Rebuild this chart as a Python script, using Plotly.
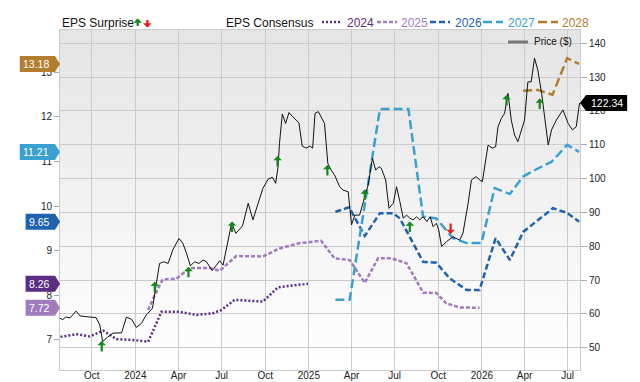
import plotly.graph_objects as go

# ---------------- DATA ----------------
price_dates = [
    "2023-07-26", "2023-08-01", "2023-08-07", "2023-08-16", "2023-08-29", "2023-09-06", "2023-09-23",
    "2023-10-10", "2023-10-18", "2023-10-24", "2023-11-04", "2023-11-15", "2023-12-03", "2023-12-13",
    "2023-12-24", "2024-01-03", "2024-01-14", "2024-01-24", "2024-02-06", "2024-02-21", "2024-03-01",
    "2024-03-10", "2024-03-20", "2024-04-02", "2024-04-10", "2024-04-18", "2024-04-26", "2024-05-05",
    "2024-05-14", "2024-05-23", "2024-05-30", "2024-06-11", "2024-06-20", "2024-06-27", "2024-07-04",
    "2024-07-14", "2024-07-22", "2024-07-31", "2024-08-14", "2024-08-26", "2024-09-05", "2024-09-16",
    "2024-09-26", "2024-10-07", "2024-10-16", "2024-10-23", "2024-10-28", "2024-10-31", "2024-11-06",
    "2024-11-13", "2024-11-20", "2024-11-28", "2024-12-11", "2024-12-18", "2024-12-26", "2025-01-03",
    "2025-01-09", "2025-01-14", "2025-01-21", "2025-02-03", "2025-02-10", "2025-02-17", "2025-02-24",
    "2025-03-07", "2025-03-14", "2025-03-25", "2025-04-01", "2025-04-08", "2025-04-18", "2025-04-29",
    "2025-05-06", "2025-05-15", "2025-05-22", "2025-05-29", "2025-06-03", "2025-06-12", "2025-06-19",
    "2025-06-28", "2025-07-05", "2025-07-12", "2025-07-19", "2025-07-26", "2025-08-02", "2025-08-09",
    "2025-08-16", "2025-08-23", "2025-08-30", "2025-09-07", "2025-09-14", "2025-09-20", "2025-09-27",
    "2025-10-02", "2025-10-08", "2025-10-18", "2025-11-01", "2025-11-15", "2025-11-22", "2025-12-03",
    "2025-12-10", "2025-12-20", "2025-12-27", "2026-01-02", "2026-01-14", "2026-01-23", "2026-01-30",
    "2026-02-04", "2026-02-11", "2026-02-18", "2026-02-25", "2026-03-04", "2026-03-11", "2026-03-18",
    "2026-03-25", "2026-04-01", "2026-04-08", "2026-04-15", "2026-04-22", "2026-04-29", "2026-05-07",
    "2026-05-14", "2026-05-21", "2026-05-28", "2026-06-07", "2026-06-21", "2026-07-02", "2026-07-11",
    "2026-07-19", "2026-07-26",
]
price_values = [
    58.7, 58.3, 59.1, 58.8, 60.8, 59.4, 59.1,
    58.9, 56.7, 51.8, 53.2, 54.3, 54.4, 59.0,
    58.4, 56.0, 57.2, 59.7, 61.6, 74.9, 75.4,
    74.9, 78.9, 82.3, 80.9, 77.9, 74.2, 75.4,
    74.9, 75.9, 75.4, 72.8, 74.4, 75.7, 74.4,
    81.8, 86.8, 83.8, 86.0, 92.7, 87.8, 92.7,
    97.1, 99.8, 100.4, 98.6, 103.5, 110.4, 119.1,
    116.3, 119.5, 118.3, 116.5, 109.6, 109.0, 109.6,
    109.0, 119.3, 119.8, 116.3, 104.5, 102.5, 101.1,
    97.6, 96.6, 96.1, 86.3, 89.2, 89.2, 94.6,
    98.1, 106.0, 102.5, 103.5, 103.0, 99.6, 91.2,
    92.7, 97.6, 93.2, 88.3, 89.2, 88.3, 87.8,
    88.7, 87.8, 88.7, 87.3, 88.7, 85.8, 86.8,
    84.8, 79.9, 81.3, 82.8, 81.8, 83.8, 92.7,
    99.6, 100.6, 99.6, 99.1, 109.9, 109.0, 109.4,
    115.3, 117.8, 119.3, 125.2, 117.3, 112.9, 110.9,
    114.4, 117.3, 128.6, 128.6, 135.6, 132.1, 125.2,
    118.3, 109.9, 114.4, 117.3, 120.3, 116.3, 114.4,
    115.3, 122.34,
]

eps2024_dates = ["2023-07-27", "2023-08-30", "2023-09-27", "2023-10-25", "2023-11-22", "2023-12-27",
                 "2024-01-28", "2024-02-25", "2024-04-03", "2024-05-09", "2024-06-13", "2024-06-30",
                 "2024-07-29", "2024-09-26", "2024-10-28", "2024-12-13", "2024-12-30"]
eps2024_values = [7.07, 7.13, 7.08, 7.21, 7.02, 7.00, 6.96, 7.63, 7.63, 7.56, 7.60, 7.67,
                  7.90, 7.86, 8.18, 8.23, 8.26]

eps2025_dates = ["2024-01-28", "2024-02-11", "2024-02-28", "2024-03-27", "2024-04-25", "2024-06-06",
                 "2024-06-27", "2024-08-01", "2024-09-26", "2024-10-31", "2024-12-13", "2025-01-27",
                 "2025-02-24", "2025-03-28", "2025-04-29", "2025-05-27", "2025-06-24", "2025-07-26",
                 "2025-08-30", "2025-09-27", "2025-10-18", "2025-11-15", "2025-12-27"]
eps2025_values = [7.67, 8.01, 8.36, 8.37, 8.61, 8.61, 8.55, 8.88, 8.87, 9.05, 9.17, 9.22,
                  8.83, 8.79, 8.28, 8.83, 8.83, 8.72, 8.06, 8.05, 7.82, 7.73, 7.72]

eps2026_dates = ["2025-02-26", "2025-03-27", "2025-04-29", "2025-05-31", "2025-06-28", "2025-07-12",
                 "2025-08-30", "2025-09-27", "2025-10-25", "2025-11-30", "2025-12-27", "2026-01-30",
                 "2026-03-01", "2026-03-29", "2026-05-31", "2026-06-29", "2026-07-25"]
eps2026_values = [9.87, 9.97, 9.33, 9.84, 9.84, 9.72, 8.75, 8.73, 8.38, 8.12, 8.12, 9.28,
                  8.79, 9.42, 9.95, 9.85, 9.65]

eps2027_dates = ["2025-02-26", "2025-03-28", "2025-05-31", "2025-07-30", "2025-08-30", "2025-09-27",
                 "2025-11-01", "2025-11-30", "2025-12-31", "2026-01-28", "2026-03-01", "2026-03-29",
                 "2026-04-29", "2026-05-28", "2026-06-30", "2026-07-25"]
eps2027_values = [7.90, 7.90, 12.17, 12.17, 9.76, 9.72, 9.28, 9.17, 9.17, 10.40, 10.27, 10.66,
                  10.84, 10.99, 11.37, 11.21]

eps2028_dates = ["2026-03-29", "2026-04-29", "2026-05-30", "2026-06-30", "2026-07-25"]
eps2028_values = [12.58, 12.60, 12.49, 13.31, 13.18]

surprise_dates = ["2023-10-22", "2024-02-11", "2024-04-22", "2024-07-23", "2024-10-27", "2025-02-09",
                  "2025-04-29", "2025-08-02", "2025-10-27", "2026-02-22", "2026-05-03"]
surprise_prices = [52.0, 69.5, 73.9, 87.3, 106.7, 104.0, 96.8, 87.3, 83.6, 124.7, 123.7]
surprise_dirs = ["up", "up", "up", "up", "up", "up", "up", "up", "down", "up", "up"]

series_names = ["2024", "2025", "2026", "2027", "2028"]
x_tick_dates = ["2023-10-01", "2024-01-01", "2024-04-01", "2024-07-01", "2024-10-01", "2025-01-01",
                "2025-04-01", "2025-07-01", "2025-10-01", "2026-01-01", "2026-04-01", "2026-07-01"]
x_tick_text = ["Oct", "2024", "Apr", "Jul", "Oct", "2025", "Apr", "Jul", "Oct", "2026", "Apr", "Jul"]
eps_ticks = [7, 8, 9, 10, 11, 12, 13]
price_ticks = [50, 60, 70, 80, 90, 100, 110, 120, 130, 140]

# ---------------- STYLE ----------------
FONT = "Liberation Sans, Arial, Helvetica, sans-serif"
GRID = "#cbcbcb"
GREEN = "#12891a"
RED = "#f01818"
colors = {"2024": "#5b2c83", "2025": "#a27bbf", "2026": "#1f62ae", "2027": "#3aa0d0", "2028": "#b27d2e"}
dashes = {"2024": "2px,2px", "2025": "4px,2px", "2026": "6px,3px", "2027": "9px,4px", "2028": "9px,4px"}
eps_data = {
    "2024": (eps2024_dates, eps2024_values),
    "2025": (eps2025_dates, eps2025_values),
    "2026": (eps2026_dates, eps2026_values),
    "2027": (eps2027_dates, eps2027_values),
    "2028": (eps2028_dates, eps2028_values),
}

W, H = 640, 382
ML, MR, MT, MB = 60, 60, 30, 12
PW, PH = W - ML - MR, H - MT - MB


def px(x):
    return (x - ML) / PW


def py(y):
    return (H - MB - y) / PH


fig = go.Figure()

for name in series_names:
    d, v = eps_data[name]
    fig.add_trace(go.Scatter(x=d, y=v, mode="lines", yaxis="y", showlegend=False, hoverinfo="skip",
                             line=dict(color=colors[name], width=2.5, dash=dashes[name])))

fig.add_trace(go.Scatter(x=price_dates, y=price_values, mode="lines", yaxis="y2", showlegend=False,
                         line=dict(color="#111111", width=1)))

shapes = []
# background gradient (top grey -> bottom white)
N = 48
for i in range(N):
    t = (i + 0.5) / N
    c = int(round(228 + (255 - 228) * t))
    shapes.append(dict(type="rect", xref="paper", yref="paper", x0=0, x1=1,
                       y0=1 - (i + 1) / N, y1=1 - i / N + 0.001, fillcolor=f"rgb({c},{c},{c})",
                       line=dict(width=0), layer="below"))

annotations = []


def tw(s, size):
    return sum(0.278 if ch == "." else 0.556 for ch in s) * size


# value tags at left axis
TAG_FS = 10.5
for name in series_names:
    d, v = eps_data[name]
    val = v[-1]
    txt = f"{val:.2f}"
    w = tw(txt, TAG_FS) + 9
    shapes.append(dict(type="path", xref="paper", yref="y", xsizemode="pixel", ysizemode="pixel",
                       xanchor=0, yanchor=val,
                       path=f"M 0 0 L -5 8 L {-5 - w} 8 L {-5 - w} -8 L -5 -8 Z",
                       fillcolor=colors[name], line=dict(width=0), layer="above"))
    annotations.append(dict(x=0, y=val, xref="paper", yref="y", text=txt, showarrow=False,
                            xanchor="center", yanchor="middle", xshift=-(5 + w / 2) - 1,
                            font=dict(family=FONT, size=TAG_FS, color="white")))

# price tag at right axis
last_price = price_values[-1]
ptxt = f"{last_price:.2f}"
pw = tw(ptxt, TAG_FS) + 9
shapes.append(dict(type="path", xref="paper", yref="y2", xsizemode="pixel", ysizemode="pixel",
                   xanchor=1, yanchor=last_price,
                   path=f"M 0 0 L 6 8 L {6 + pw} 8 L {6 + pw} -8 L 6 -8 Z",
                   fillcolor="#000000", line=dict(width=0), layer="above"))
annotations.append(dict(x=1, y=last_price, xref="paper", yref="y2", text=ptxt, showarrow=False,
                        xanchor="center", yanchor="middle", xshift=6 + pw / 2,
                        font=dict(family=FONT, size=TAG_FS, color="white")))

# surprise arrows
ARW = dict(arrowhead=1, arrowsize=0.65, arrowwidth=2.2, standoff=0, text="", showarrow=True)
for d, p, s in zip(surprise_dates, surprise_prices, surprise_dirs):
    up = s == "up"
    annotations.append(dict(x=d, y=p, xref="x", yref="y2", arrowcolor=GREEN if up else RED,
                            ax=0, ay=12 if up else -12, **ARW))

# top legend
LY = 23
annotations.append(dict(x=px(60), y=py(LY), xref="paper", yref="paper", text="EPS Surprise",
                        showarrow=False, xanchor="left", yanchor="middle",
                        font=dict(family=FONT, size=12, color="#111")))
annotations.append(dict(x=px(137.7), y=py(18.5), xref="paper", yref="paper", arrowcolor=GREEN,
                        ax=0, ay=9, **ARW))
annotations.append(dict(x=px(147.3), y=py(27.5), xref="paper", yref="paper", arrowcolor=RED,
                        ax=0, ay=-9, **ARW))
annotations.append(dict(x=px(224), y=py(LY), xref="paper", yref="paper", text="EPS Consensus",
                        showarrow=False, xanchor="left", yanchor="middle",
                        font=dict(family=FONT, size=12, color="#111")))
leg_x = {"2024": (322, 342, 345), "2025": (377, 397, 399), "2026": (430, 450, 453),
         "2027": (483, 503, 506), "2028": (538, 558, 560)}
for name in series_names:
    x0, x1, xt = leg_x[name]
    shapes.append(dict(type="line", xref="paper", yref="paper", x0=px(x0), x1=px(x1),
                       y0=py(LY - 1), y1=py(LY - 1),
                       line=dict(color=colors[name], width=2.5, dash=dashes[name])))
    annotations.append(dict(x=px(xt), y=py(LY), xref="paper", yref="paper", text=name,
                            showarrow=False, xanchor="left", yanchor="middle",
                            font=dict(family=FONT, size=12, color=colors[name])))

# price legend inside plot
shapes.append(dict(type="line", xref="paper", yref="paper", x0=px(508), x1=px(528),
                   y0=py(42), y1=py(42), line=dict(color="#777777", width=3)))
annotations.append(dict(x=px(532), y=py(42), xref="paper", yref="paper", text="Price ($)",
                        showarrow=False, xanchor="left", yanchor="middle",
                        font=dict(family=FONT, size=10, color="#111")))

tickfont = dict(family=FONT, size=10, color="#222")
fig.update_layout(
    width=W, height=H,
    margin=dict(l=ML, r=MR, t=MT, b=MB, pad=0, autoexpand=False),
    paper_bgcolor="white",
    plot_bgcolor="rgba(0,0,0,0)",
    font=dict(family=FONT),
    showlegend=False,
    xaxis=dict(type="date", range=["2023-07-26", "2026-07-27"], tickvals=x_tick_dates,
               ticktext=x_tick_text, showgrid=True, gridcolor=GRID, gridwidth=1,
               showline=True, linecolor=GRID, linewidth=1, mirror=True, ticks="",
               ticklabelstandoff=-4,
               tickfont=tickfont, zeroline=False, automargin=False),
    yaxis=dict(range=[6.328, 13.941], tickvals=eps_ticks, showgrid=False, zeroline=False,
               ticks="outside", ticklen=5, tickcolor="#aaaaaa", showline=True, linecolor=GRID,
               linewidth=1, mirror=True, tickfont=tickfont, automargin=False),
    yaxis2=dict(range=[43.40, 143.93], tickvals=price_ticks, overlaying="y", side="right",
                showgrid=True, gridcolor=GRID, gridwidth=1, zeroline=False, ticks="outside",
                ticklen=6, tickcolor="#aaaaaa", showline=False, tickfont=tickfont,
                automargin=False),
    shapes=shapes,
    annotations=annotations,
)

fig.write_html("out.html")
